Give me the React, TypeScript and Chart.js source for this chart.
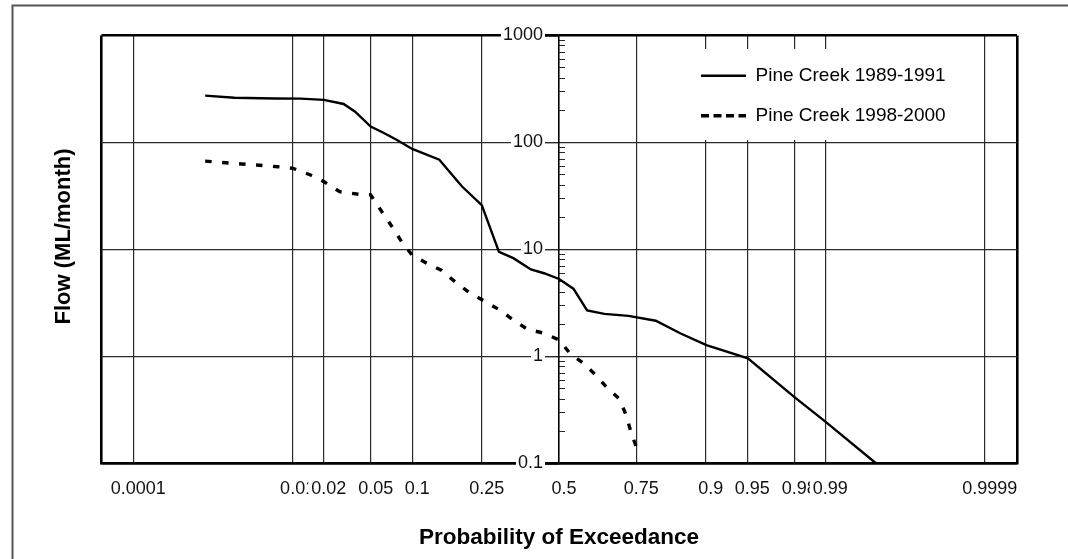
import { useEffect, useRef } from 'react';
import { Chart, Scale, layouts, registerables } from 'chart.js';

Chart.register(...registerables);

// ---------- data ----------
const xTickValues = [0.0001, 0.01, 0.02, 0.05, 0.1, 0.25, 0.5, 0.75, 0.9, 0.95, 0.98, 0.99, 0.9999];
const xTickLabels = ['0.0001', '0.01', '0.02', '0.05', '0.1', '0.25', '0.5', '0.75', '0.9', '0.95', '0.98', '0.99', '0.9999'];
const yTickValues = [0.1, 1, 10, 100, 1000];
const yTickLabels = ['0.1', '1', '10', '100', '1000'];
const yMinorValues = [
  0.2, 0.3, 0.4, 0.5, 0.6, 0.7, 0.8, 0.9,
  2, 3, 4, 5, 6, 7, 8, 9,
  20, 30, 40, 50, 60, 70, 80, 90,
  200, 300, 400, 500, 600, 700, 800, 900,
];

const series1Label = 'Pine Creek 1989-1991';
const series1P = [0.001, 0.0023, 0.0065, 0.012, 0.02, 0.03, 0.0375, 0.05, 0.062, 0.078, 0.1, 0.148, 0.198, 0.25, 0.3, 0.345, 0.403, 0.448, 0.5, 0.55, 0.597, 0.654, 0.728, 0.801, 0.855, 0.901, 0.9505, 0.98, 0.99, 0.9972];
const series1Q = [274, 262, 258, 257, 250, 229, 194, 141, 124, 106, 87, 69, 39, 26, 9.5, 8.3, 6.5, 6.0, 5.3, 4.3, 2.7, 2.5, 2.4, 2.16, 1.65, 1.28, 0.96, 0.42, 0.246, 0.1];

const series2Label = 'Pine Creek 1998-2000';
const series2P = [0.001, 0.0028, 0.007, 0.0101, 0.015, 0.0201, 0.0277, 0.04, 0.05, 0.062, 0.0737, 0.0847, 0.0996, 0.125, 0.152, 0.182, 0.215, 0.252, 0.3026, 0.345, 0.391, 0.448, 0.5, 0.538, 0.585, 0.6255, 0.6647, 0.702, 0.721, 0.7357, 0.75];
const series2Q = [67, 63, 59.4, 57.4, 49.7, 43, 34.7, 32.8, 32.4, 21.8, 15.8, 11.8, 8.9, 7.4, 6.4, 5.0, 4.0, 3.37, 2.72, 2.19, 1.8, 1.65, 1.43, 1.07, 0.863, 0.671, 0.504, 0.398, 0.284, 0.194, 0.1436];

const xTitle = 'Probability of Exceedance';
const yTitle = 'Flow (ML/month)';

// ---------- normal probability helpers ----------
function probit(p: number): number {
  const a = [-3.969683028665376e1, 2.209460984245205e2, -2.759285104469687e2, 1.38357751867269e2, -3.066479806614716e1, 2.506628277459239];
  const b = [-5.447609879822406e1, 1.615858368580409e2, -1.556989798598866e2, 6.680131188771972e1, -1.328068155288572e1];
  const c = [-7.784894002430293e-3, -3.223964580411365e-1, -2.400758277161838, -2.549732539343734, 4.374664141464968, 2.938163982698783];
  const d = [7.784695709041462e-3, 3.224671290700398e-1, 2.445134137142996, 3.754408661907416];
  const pl = 0.02425;
  if (p < pl) {
    const q = Math.sqrt(-2 * Math.log(p));
    return (((((c[0] * q + c[1]) * q + c[2]) * q + c[3]) * q + c[4]) * q + c[5]) / ((((d[0] * q + d[1]) * q + d[2]) * q + d[3]) * q + 1);
  }
  if (p <= 1 - pl) {
    const q = p - 0.5;
    const r = q * q;
    return ((((((a[0] * r + a[1]) * r + a[2]) * r + a[3]) * r + a[4]) * r + a[5]) * q) / (((((b[0] * r + b[1]) * r + b[2]) * r + b[3]) * r + b[4]) * r + 1);
  }
  const q = Math.sqrt(-2 * Math.log(1 - p));
  return -(((((c[0] * q + c[1]) * q + c[2]) * q + c[3]) * q + c[4]) * q + c[5]) / ((((d[0] * q + d[1]) * q + d[2]) * q + d[3]) * q + 1);
}

function normCdf(z: number): number {
  const x = Math.abs(z) / Math.SQRT2;
  const t = 1 / (1 + 0.3275911 * x);
  const y = 1 - ((((1.061405429 * t - 1.453152027) * t + 1.421413741) * t - 0.284496736) * t + 0.254829592) * t * Math.exp(-x * x);
  return z >= 0 ? 0.5 * (1 + y) : 0.5 * (1 - y);
}

// ---------- custom normal-probability scale ----------
class ProbitScale extends Scale {
  static id = 'probit';
  static defaults = {};
  _zMin: number = -4;
  _zMax: number = 4;
  parse(raw: any) {
    return raw === undefined || raw === null ? null : +raw;
  }
  determineDataLimits() {
    const o: any = this.options;
    this._zMin = o.zMin ?? -4;
    this._zMax = o.zMax ?? 4;
    this.min = normCdf(this._zMin);
    this.max = normCdf(this._zMax);
  }
  buildTicks() {
    return [];
  }
  getLabelForValue(v: number) {
    return String(v);
  }
  getPixelForValue(v: number) {
    const z = probit(v);
    return this.getPixelForDecimal((z - this._zMin) / (this._zMax - this._zMin));
  }
  getPixelForTick(i: number) {
    return this.getPixelForValue(this.ticks[i].value);
  }
  getValueForPixel(px: number) {
    return normCdf(this._zMin + this.getDecimalForPixel(px) * (this._zMax - this._zMin));
  }
}
Chart.register(ProbitScale as any);

const FONT = "'Liberation Sans', Arial, Helvetica, sans-serif";
Chart.defaults.font.family = FONT;

const LEGEND_DASH = [8, 4.5];

// white box behind the legend, drawn above the grid but below the legend
function makeLegendBackdrop(chart: any) {
  return {
    position: 'chartArea',
    fullSize: false,
    weight: 0,
    options: {},
    left: 0, top: 0, right: 0, bottom: 0, width: 0, height: 0,
    isHorizontal() { return false; },
    update() {},
    getPadding() { return { left: 0, top: 0, right: 0, bottom: 0 }; },
    draw() {},
    _layers() {
      return [{
        z: -0.5,
        draw: () => {
          const ctx = chart.ctx;
          ctx.save();
          ctx.fillStyle = '#ffffff';
          ctx.fillRect(660, 49, 312, 91);
          ctx.restore();
        },
      }];
    },
  };
}

const layoutPlugin = {
  id: 'probLayout',
  beforeInit(chart: any) {
    layouts.addBox(chart, makeLegendBackdrop(chart) as any);
  },
  afterLayout(chart: any) {
    const axisPx = chart.scales.x.getPixelForValue(0.5);
    const y = chart.scales.y;
    y.left = axisPx - 90;
    y.right = axisPx;
    y._gridLineItems = null;
    y._labelItems = null;
    const ym = chart.scales.yMinor;
    ym.left = axisPx;
    ym.right = axisPx + 10;
    ym._gridLineItems = null;
    ym._labelItems = null;
    const lg = chart.legend;
    if (lg) {
      const w = lg.width;
      lg.left = 680;
      lg.top = 45.2;
      lg.right = lg.left + w;
      lg.bottom = lg.top + 130;
    }
  },
  beforeDraw(chart: any) {
    const ctx = chart.ctx;
    ctx.save();
    ctx.strokeStyle = '#555';
    ctx.lineWidth = 2;
    ctx.beginPath();
    ctx.moveTo(12.5, chart.height + 2);
    ctx.lineTo(12.5, 5.5);
    ctx.lineTo(chart.width + 2, 5.5);
    ctx.stroke();
    ctx.restore();
  },
  afterDraw(chart: any) {
    const ctx = chart.ctx;
    ctx.save();
    ctx.translate(64, 236.5);
    ctx.rotate(-Math.PI / 2);
    ctx.font = `bold 22px ${FONT}`;
    ctx.fillStyle = '#000';
    ctx.textAlign = 'center';
    ctx.textBaseline = 'middle';
    ctx.fillText(yTitle, 0, 0);
    ctx.restore();
  },
};

export default function App() {
  const ref = useRef<HTMLCanvasElement>(null);

  useEffect(() => {
    const canvas = ref.current;
    if (!canvas) return;
    const isXEdge = (c: any) => c.index === 0 || (c.scale && c.index === c.scale.ticks.length - 1);
    const isYFrame = (c: any) => c.tick && (c.tick.value === 1000 || c.tick.value === 0.1);

    const chart = new Chart(canvas, {
      type: 'line',
      data: {
        datasets: [
          {
            label: series1Label,
            data: series1P.map((p, i) => ({ x: p, y: series1Q[i] })),
            borderColor: '#000',
            backgroundColor: '#000',
            borderWidth: 2.4,
            pointRadius: 0,
            tension: 0,
            xAxisID: 'x',
            yAxisID: 'y',
          },
          {
            label: series2Label,
            data: series2P.map((p, i) => ({ x: p, y: series2Q[i] })),
            borderColor: '#000',
            backgroundColor: '#000',
            borderWidth: 3.4,
            borderDash: [6.5, 10.5],
            pointRadius: 0,
            tension: 0,
            xAxisID: 'x',
            yAxisID: 'y',
          },
        ],
      },
      options: {
        responsive: false,
        animation: false,
        events: [],
        layout: { padding: { left: 101, right: 51, top: 35.5, bottom: 0 } },
        scales: {
          x: {
            type: 'probit' as any,
            position: 'bottom',
            zMin: -4,
            zMax: 4,
            afterBuildTicks: (s: any) => {
              s.ticks = [s.min, ...xTickValues, s.max].map((v) => ({ value: v }));
            },
            afterFit: (s: any) => {
              s.height = 60.7;
            },
            grid: {
              color: (c: any) => (isXEdge(c) ? '#000' : '#2a2a2a'),
              lineWidth: (c: any) => (isXEdge(c) ? 2.6 : 1.2),
              drawTicks: false,
            },
            border: { display: true, color: '#000', width: 2.6 },
            ticks: {
              autoSkip: false,
              maxRotation: 0,
              minRotation: 0,
              padding: 14.5,
              labelOffset: 5,
              color: '#111',
              font: { size: 18, family: FONT },
              showLabelBackdrop: true,
              backdropColor: '#ffffff',
              backdropPadding: 3,
              callback: (_v: any, i: number, ticks: any[]) =>
                i === 0 || i === ticks.length - 1 ? '' : xTickLabels[i - 1],
            },
          } as any,
          y: {
            type: 'logarithmic',
            position: 'left',
            min: 0.1,
            max: 1000,
            afterBuildTicks: (s: any) => {
              s.ticks = yTickValues.map((v) => ({ value: v }));
            },
            afterFit: (s: any) => {
              s.width = 0;
            },
            grid: {
              color: (c: any) => (isYFrame(c) ? '#000' : '#2a2a2a'),
              lineWidth: (c: any) => (isYFrame(c) ? 2.6 : 1.2),
              drawTicks: true,
              tickLength: 14,
            },
            border: { display: true, color: '#000', width: 1.5 },
            ticks: {
              autoSkip: false,
              padding: 2,
              color: '#111',
              font: { size: 18, family: FONT },
              showLabelBackdrop: true,
              backdropColor: '#ffffff',
              backdropPadding: 2,
              callback: (v: any) => {
                const i = yTickValues.indexOf(Number(v));
                return i >= 0 ? yTickLabels[i] : '';
              },
            },
          } as any,
          yMinor: {
            type: 'logarithmic',
            position: 'right',
            min: 0.1,
            max: 1000,
            afterBuildTicks: (s: any) => {
              s.ticks = yMinorValues.map((v) => ({ value: v }));
            },
            afterFit: (s: any) => {
              s.width = 0;
            },
            grid: {
              drawOnChartArea: false,
              drawTicks: true,
              tickLength: 6,
              color: '#2a2a2a',
              lineWidth: 1,
            },
            border: { display: false },
            ticks: { display: false },
          } as any,
        },
        plugins: {
          legend: {
            display: true,
            position: 'chartArea' as any,
            align: 'start',
            labels: {
              usePointStyle: true,
              pointStyle: 'line',
              pointStyleWidth: 45,
              padding: 21,
              color: '#000',
              font: { size: 19, family: FONT },
              generateLabels: (ch: any) => {
                const items = (Chart.defaults.plugins.legend.labels as any).generateLabels(ch);
                items.forEach((it: any) => {
                  const ds = ch.data.datasets[it.datasetIndex];
                  it.lineDash = ds.borderDash ? LEGEND_DASH : [];
                  it.lineWidth = ds.borderDash ? 3.4 : 2.4;
                  it.fontColor = '#000';
                });
                return items;
              },
            },
          },
          title: {
            display: true,
            text: xTitle,
            position: 'bottom',
            color: '#000',
            font: { size: 22.5, weight: 'bold', family: FONT },
            padding: { top: 0, bottom: 7.8 },
          },
          tooltip: { enabled: false },
        },
      } as any,
      plugins: [layoutPlugin as any],
    });
    return () => chart.destroy();
  }, []);

  return (
    <div style={{ position: 'fixed', left: 0, top: 0, width: 1068, height: 559, background: '#fff' }}>
      <canvas ref={ref} width={1068} height={559} style={{ display: 'block' }} />
    </div>
  );
}
